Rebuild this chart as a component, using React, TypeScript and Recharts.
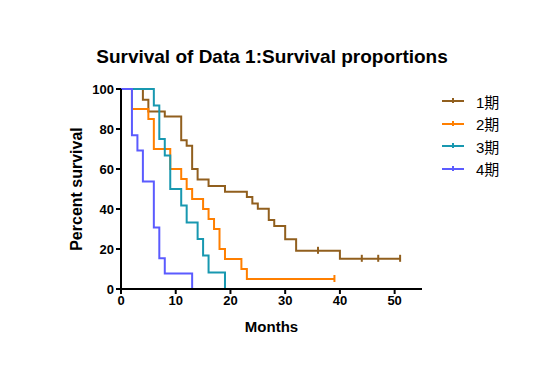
import { LineChart, Line, XAxis, YAxis, Label } from 'recharts';

type Pt = { m: number; s: number; c?: boolean };

const groupNames = ['1期', '2期', '3期', '4期'];
const groupColors = ['#915F1E', '#FF7F00', '#1898B0', '#5B5BFF'];

const xTicks = [0, 10, 20, 30, 40, 50];
const yTicks = [0, 20, 40, 60, 80, 100];

// months / survival %, c = censored tick
const stage1: Pt[] = [
  { m: 0, s: 100 }, { m: 4, s: 94.6 }, { m: 5, s: 88.8 }, { m: 8, s: 86.3 },
  { m: 11, s: 74.4 }, { m: 12, s: 71.6 }, { m: 13, s: 60 }, { m: 14, s: 54.7 },
  { m: 16, s: 51.5 }, { m: 19, s: 48.6 }, { m: 23, s: 46 }, { m: 24, s: 42.8 },
  { m: 25, s: 40.1 }, { m: 27, s: 34.5 }, { m: 28, s: 31.5 }, { m: 30, s: 24.9 },
  { m: 32, s: 19.1 }, { m: 36, s: 19.1, c: true }, { m: 40, s: 15.1 },
  { m: 44, s: 15.1, c: true }, { m: 47, s: 15.1, c: true }, { m: 51, s: 15.1, c: true },
];
const stage2: Pt[] = [
  { m: 0, s: 100 }, { m: 2, s: 90 }, { m: 5, s: 85 }, { m: 6, s: 70 }, { m: 9, s: 60 },
  { m: 11, s: 55 }, { m: 12, s: 50 }, { m: 13, s: 45 }, { m: 15, s: 40 }, { m: 16, s: 35 },
  { m: 17, s: 30 }, { m: 18, s: 20 }, { m: 19, s: 15 }, { m: 22, s: 10 }, { m: 23, s: 5 },
  { m: 39, s: 5, c: true },
];
const stage3: Pt[] = [
  { m: 0, s: 100 }, { m: 6, s: 91.7 }, { m: 7, s: 75 }, { m: 8, s: 66.7 }, { m: 9, s: 50 },
  { m: 11, s: 41.7 }, { m: 12, s: 33.3 }, { m: 14, s: 25 }, { m: 15, s: 16.7 },
  { m: 16, s: 8.3 }, { m: 19, s: 0 },
];
const stage4: Pt[] = [
  { m: 0, s: 100 }, { m: 2, s: 76.9 }, { m: 3, s: 69.2 }, { m: 4, s: 53.8 },
  { m: 6, s: 30.8 }, { m: 7, s: 15.4 }, { m: 8, s: 7.7 }, { m: 13, s: 0 },
];

const series = [stage1, stage2, stage3, stage4];
const font = 'Arial, "Liberation Sans", "Noto Sans CJK SC", sans-serif';

function censorDot(color: string) {
  return (p: any) => {
    const key = `d-${p.index}`;
    if (!p.payload?.c) return <g key={key} />;
    return <line key={key} x1={p.cx} x2={p.cx} y1={p.cy - 4} y2={p.cy + 3} stroke={color} strokeWidth={2} />;
  };
}

function LegendBox() {
  return (
    <div style={{ position: 'absolute', left: 434, top: 82, fontFamily: font }}>
      {groupNames.map((n, i) => (
        <div key={n} style={{ display: 'flex', alignItems: 'center', height: 22.5 }}>
          <svg width={34} height={10}>
            <line x1={0} x2={22} y1={5} y2={5} stroke={groupColors[i]} strokeWidth={2} />
            <line x1={11} x2={11} y1={2} y2={7} stroke={groupColors[i]} strokeWidth={2} />
          </svg>
          <span style={{ fontSize: 15, color: '#000' }}>{n}</span>
        </div>
      ))}
    </div>
  );
}

export default function App() {
  return (
    <div style={{ position: 'relative', width: 538, height: 379, fontFamily: font }}>
      <div style={{ position: 'absolute', left: 0, width: 528, top: 38, textAlign: 'center', fontWeight: 'bold', fontSize: 19, zIndex: 1 }}>
        Survival of Data 1:Survival proportions
      </div>
      <LegendBox />
      <LineChart width={538} height={379} margin={{ top: 81, right: 124, left: 0, bottom: 68 }}>
        <XAxis
          dataKey="m"
          type="number"
          domain={[0, 55]}
          ticks={xTicks}
          allowDuplicatedCategory={false}
          axisLine={{ stroke: '#000', strokeWidth: 2 }}
          tickLine={{ stroke: '#000', strokeWidth: 2 }}
          tickSize={5}
          height={30}
          tick={{ fill: '#000', fontSize: 13, fontWeight: 'bold' }}
        >
          <Label value="Months" position="insideBottom" offset={-13} fill="#000" fontSize={15} fontWeight="bold" />
        </XAxis>
        <YAxis
          type="number"
          domain={[0, 100]}
          ticks={yTicks}
          width={113}
          axisLine={{ stroke: '#000', strokeWidth: 2 }}
          tickLine={{ stroke: '#000', strokeWidth: 2 }}
          tickSize={5}
          tick={{ fill: '#000', fontSize: 13, fontWeight: 'bold' }}
        >
          <Label value="Percent survival" angle={-90} position="insideLeft" offset={68} fill="#000" fontSize={16} fontWeight="bold" style={{ textAnchor: 'middle' }} />
        </YAxis>
        {series.map((d, i) => (
          <Line
            key={groupNames[i]}
            data={d}
            dataKey="s"
            name={groupNames[i]}
            type="stepAfter"
            stroke={groupColors[i]}
            strokeWidth={2}
            dot={censorDot(groupColors[i])}
            activeDot={false}
            isAnimationActive={false}
          />
        ))}
      </LineChart>
    </div>
  );
}
